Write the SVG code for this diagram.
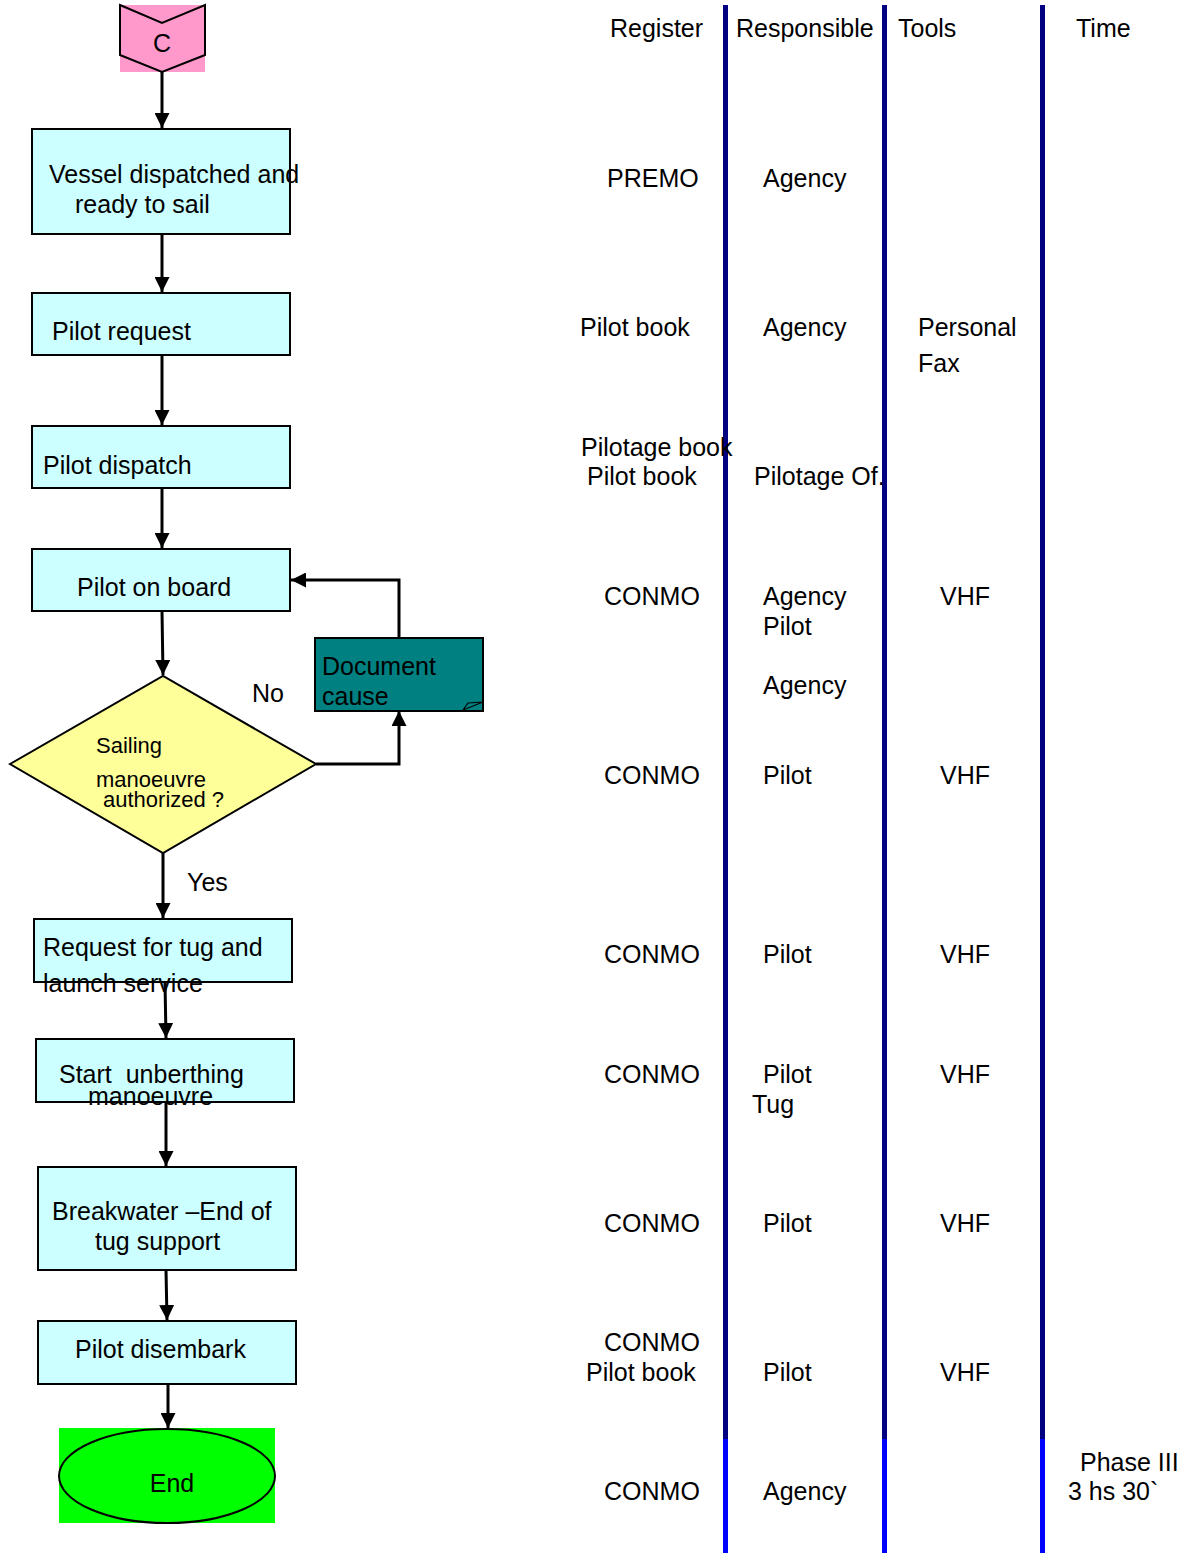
<svg xmlns="http://www.w3.org/2000/svg" width="1187" height="1553" viewBox="0 0 1187 1553">
  <style>
    text { font-family: "Liberation Sans", Arial, sans-serif; font-size: 25px; fill: #000; }
    .small { font-size: 22px; }
    .box { fill: #CCFFFF; stroke: #000; stroke-width: 2; }
    .conn { fill: none; stroke: #000; stroke-width: 3; }
    .lane { stroke: #000080; stroke-width: 5; }
    .lane2 { stroke: #0000FF; stroke-width: 5; }
  </style>
  <defs>
    <marker id="arrow" viewBox="0 0 15 15" refX="15" refY="7.5" markerWidth="15" markerHeight="15" markerUnits="userSpaceOnUse" orient="auto">
      <path d="M0,0 L15,7.5 L0,15 Z" fill="#000"/>
    </marker>
  </defs>

  <rect width="1187" height="1553" fill="#fff"/>

  <!-- column separators -->
  <g id="lanes">
    <line class="lane" x1="725.5" y1="5" x2="725.5" y2="1440"/>
    <line class="lane2" x1="725.5" y1="1439" x2="725.5" y2="1553"/>
    <line class="lane" x1="884.5" y1="5" x2="884.5" y2="1440"/>
    <line class="lane2" x1="884.5" y1="1439" x2="884.5" y2="1553"/>
    <line class="lane" x1="1042.5" y1="5" x2="1042.5" y2="1440"/>
    <line class="lane2" x1="1042.5" y1="1439" x2="1042.5" y2="1553"/>
  </g>

  <!-- connectors -->
  <g id="connectors">
    <line class="conn" x1="162" y1="72" x2="162" y2="128" marker-end="url(#arrow)"/>
    <line class="conn" x1="162" y1="234" x2="162" y2="292" marker-end="url(#arrow)"/>
    <line class="conn" x1="162" y1="355" x2="162" y2="425" marker-end="url(#arrow)"/>
    <line class="conn" x1="162" y1="488" x2="162" y2="548" marker-end="url(#arrow)"/>
    <line class="conn" x1="162" y1="611" x2="163" y2="675" marker-end="url(#arrow)"/>
    <polyline class="conn" points="316,764 399,764 399,711" marker-end="url(#arrow)"/>
    <polyline class="conn" points="399,638 399,580 291,580" marker-end="url(#arrow)"/>
    <line class="conn" x1="163" y1="853" x2="163" y2="918" marker-end="url(#arrow)"/>
    <line class="conn" x1="165" y1="982" x2="166" y2="1038" marker-end="url(#arrow)"/>
    <line class="conn" x1="166" y1="1102" x2="166" y2="1166" marker-end="url(#arrow)"/>
    <line class="conn" x1="166" y1="1270" x2="167" y2="1320" marker-end="url(#arrow)"/>
    <line class="conn" x1="168" y1="1384" x2="168" y2="1428" marker-end="url(#arrow)"/>
  </g>

  <!-- flow nodes -->
  <g id="node-c">
    <rect x="120" y="5" width="85" height="67" fill="#FF99CC"/>
    <polygon points="120,5 162,23 205,5 205,55 162,72 120,55" fill="#FF99CC" stroke="#000" stroke-width="2"/>
    <text x="162" y="52" text-anchor="middle">C</text>
  </g>

  <g id="node-vessel-dispatched">
    <rect class="box" x="32" y="129" width="258" height="105"/>
    <text x="49" y="183">Vessel dispatched and</text>
    <text x="75" y="213">ready to sail</text>
  </g>

  <g id="node-pilot-request">
    <rect class="box" x="32" y="293" width="258" height="62"/>
    <text x="52" y="340">Pilot request</text>
  </g>

  <g id="node-pilot-dispatch">
    <rect class="box" x="32" y="426" width="258" height="62"/>
    <text x="43" y="474">Pilot dispatch</text>
  </g>

  <g id="node-pilot-on-board">
    <rect class="box" x="32" y="549" width="258" height="62"/>
    <text x="77" y="596">Pilot on board</text>
  </g>

  <g id="node-sailing-decision">
    <polygon points="10,764 163,676 316,764 163,853" fill="#FFFF99" stroke="#000" stroke-width="2"/>
    <text class="small" x="96" y="753">Sailing</text>
    <text class="small" x="96" y="787">manoeuvre</text>
    <text class="small" x="103" y="807">authorized ?</text>
  </g>

  <g id="label-no">
    <text x="252" y="702">No</text>
  </g>

  <g id="node-document-cause">
    <rect x="315" y="638" width="168" height="73" fill="#008080" stroke="#000" stroke-width="2"/>
    <path d="M463,710 L468,703 L483,702 Z" fill="#008080" stroke="#000" stroke-width="1.2"/>
    <text x="322" y="675">Document</text>
    <text x="322" y="705">cause</text>
  </g>

  <g id="label-yes">
    <text x="187" y="891">Yes</text>
  </g>

  <g id="node-tug-request">
    <rect class="box" x="34" y="919" width="258" height="63"/>
    <text x="43" y="956">Request for tug and</text>
    <text x="43" y="992">launch service</text>
  </g>

  <g id="node-start-unberthing">
    <rect class="box" x="36" y="1039" width="258" height="63"/>
    <text x="59" y="1083" xml:space="preserve">Start  unberthing</text>
    <text x="88" y="1105">manoeuvre</text>
  </g>

  <g id="node-breakwater">
    <rect class="box" x="38" y="1167" width="258" height="103"/>
    <text x="52" y="1220">Breakwater –End of</text>
    <text x="95" y="1250">tug support</text>
  </g>

  <g id="node-pilot-disembark">
    <rect class="box" x="38" y="1321" width="258" height="63"/>
    <text x="75" y="1358">Pilot disembark</text>
  </g>

  <g id="node-end">
    <rect x="59" y="1428" width="216" height="95" fill="#00FF00"/>
    <ellipse cx="167" cy="1476" rx="108" ry="47" fill="#00FF00" stroke="#000" stroke-width="2"/>
    <text x="172" y="1492" text-anchor="middle">End</text>
  </g>

  <!-- table: register / responsible / tools / time -->
  <g id="table-headers">
    <text x="610" y="37">Register</text>
    <text x="736" y="37">Responsible</text>
    <text x="898" y="37">Tools</text>
    <text x="1076" y="37">Time</text>
  </g>

  <g id="table-rows">
    <text x="607" y="187">PREMO</text>
    <text x="763" y="187">Agency</text>

    <text x="580" y="336">Pilot book</text>
    <text x="763" y="336">Agency</text>
    <text x="918" y="336">Personal</text>
    <text x="918" y="372">Fax</text>

    <text x="581" y="456">Pilotage book</text>
    <text x="587" y="485">Pilot book</text>
    <text x="754" y="485">Pilotage Of.</text>

    <text x="604" y="605">CONMO</text>
    <text x="763" y="605">Agency</text>
    <text x="763" y="635">Pilot</text>
    <text x="940" y="605">VHF</text>

    <text x="763" y="694">Agency</text>

    <text x="604" y="784">CONMO</text>
    <text x="763" y="784">Pilot</text>
    <text x="940" y="784">VHF</text>

    <text x="604" y="963">CONMO</text>
    <text x="763" y="963">Pilot</text>
    <text x="940" y="963">VHF</text>

    <text x="604" y="1083">CONMO</text>
    <text x="763" y="1083">Pilot</text>
    <text x="752" y="1113">Tug</text>
    <text x="940" y="1083">VHF</text>

    <text x="604" y="1232">CONMO</text>
    <text x="763" y="1232">Pilot</text>
    <text x="940" y="1232">VHF</text>

    <text x="604" y="1351">CONMO</text>
    <text x="586" y="1381">Pilot book</text>
    <text x="763" y="1381">Pilot</text>
    <text x="940" y="1381">VHF</text>

    <text x="604" y="1500">CONMO</text>
    <text x="763" y="1500">Agency</text>
    <text x="1080" y="1471">Phase III</text>
    <text x="1068" y="1500">3 hs 30`</text>
  </g>
</svg>
